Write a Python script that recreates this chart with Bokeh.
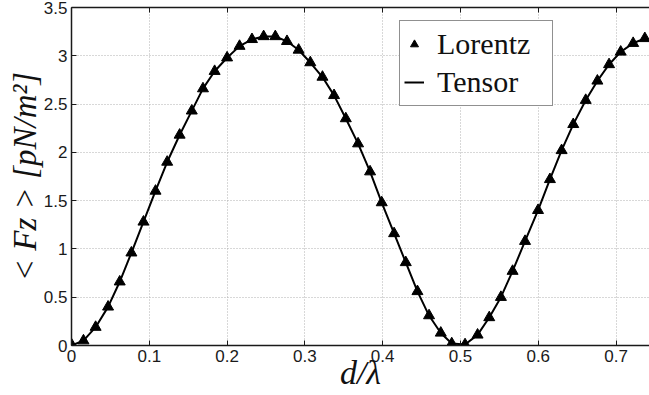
from bokeh.plotting import figure
from bokeh.models import Range1d, LinearAxis, Legend, LegendItem, FixedTicker
from bokeh.embed import file_html
from bokeh.resources import INLINE

# ---- data ----
d_lambda = [0.000, 0.0154, 0.031, 0.047, 0.062, 0.077, 0.0925, 0.108, 0.123, 0.139,
            0.1546, 0.169, 0.184, 0.200, 0.216, 0.232, 0.247, 0.262, 0.277, 0.292,
            0.307, 0.3226, 0.3375, 0.3526, 0.3684, 0.3838, 0.3988, 0.4147, 0.4297, 0.4447,
            0.4596, 0.4747, 0.4888, 0.5059, 0.522, 0.537, 0.552, 0.567, 0.583, 0.5997,
            0.615, 0.630, 0.645, 0.661, 0.676, 0.691, 0.706, 0.722, 0.737]
lorentz = [0.01, 0.05, 0.19, 0.40, 0.66, 0.96, 1.28, 1.60, 1.90, 2.18,
           2.43, 2.66, 2.84, 2.98, 3.10, 3.17, 3.20, 3.20, 3.15, 3.06,
           2.93, 2.78, 2.59, 2.35, 2.09, 1.80, 1.48, 1.16, 0.86, 0.56,
           0.31, 0.13, 0.02, 0.01, 0.11, 0.29, 0.50, 0.77, 1.08, 1.40,
           1.72, 2.02, 2.29, 2.54, 2.74, 2.91, 3.04, 3.13, 3.18]
tensor = [0.00, 0.05, 0.19, 0.40, 0.66, 0.96, 1.28, 1.60, 1.90, 2.18,
          2.43, 2.66, 2.84, 2.98, 3.10, 3.17, 3.20, 3.20, 3.15, 3.06,
          2.93, 2.78, 2.59, 2.35, 2.09, 1.80, 1.48, 1.16, 0.86, 0.56,
          0.31, 0.13, 0.02, 0.01, 0.11, 0.29, 0.50, 0.77, 1.08, 1.40,
          1.72, 2.02, 2.29, 2.54, 2.74, 2.91, 3.04, 3.13, 3.18]
x_ticks = [0, 0.1, 0.2, 0.3, 0.4, 0.5, 0.6, 0.7]
y_ticks = [0, 0.5, 1, 1.5, 2, 2.5, 3, 3.5]
x_tick_labels = {0: "0", 0.1: "0.1", 0.2: "0.2", 0.3: "0.3", 0.4: "0.4", 0.5: "0.5", 0.6: "0.6", 0.7: "0.7"}
y_tick_labels = {0: "0", 0.5: "0.5", 1: "1", 1.5: "1.5", 2: "2", 2.5: "2.5", 3: "3", 3.5: "3.5"}
x_label = "d/λ"
y_label = "< Fz > [pN/m²]"
series_names = ["Lorentz", "Tensor"]

W, H = 649, 395
L, T, B = 71, 7, 50

p = figure(width=W, height=H, output_backend="svg", toolbar_location=None,
           x_range=Range1d(0, 0.743), y_range=Range1d(0, 3.5),
           min_border_left=L, min_border_right=0, min_border_top=T, min_border_bottom=B,
           x_axis_location=None, y_axis_location=None)
p.outline_line_color = None
p.background_fill_color = "white"
p.border_fill_color = "white"

def style_axis(ax, show_labels=True):
    ax.axis_line_color = "#1a1a1a"
    ax.axis_line_width = 1.5
    ax.major_tick_line_color = "#1a1a1a"
    ax.major_tick_in = 5
    ax.major_tick_out = 0
    ax.minor_tick_line_color = None
    ax.major_label_text_font = "Liberation Sans"
    ax.major_label_text_font_size = "17px"
    ax.major_label_text_color = "#1a1a1a" if show_labels else None
    ax.axis_label_text_font = "Liberation Serif"
    ax.axis_label_text_font_style = "italic"
    ax.axis_label_text_color = "#111111"

xb = LinearAxis(ticker=FixedTicker(ticks=x_ticks), major_label_overrides=x_tick_labels,
                axis_label=x_label)
style_axis(xb)
xb.major_label_standoff = 4
xb.axis_label_text_font_size = "34px"
xb.axis_label_standoff = -11
p.add_layout(xb, "below")

xt = LinearAxis(ticker=FixedTicker(ticks=x_ticks))
style_axis(xt, False)
xt.major_label_standoff = 0
p.add_layout(xt, "above")

yl = LinearAxis(ticker=FixedTicker(ticks=y_ticks), major_label_overrides=y_tick_labels,
                axis_label=y_label)
style_axis(yl)
yl.major_label_standoff = 4
yl.axis_label_text_font_size = "33px"
yl.axis_label_standoff = -2
p.add_layout(yl, "left")

p.xgrid.ticker = FixedTicker(ticks=x_ticks)
p.ygrid.ticker = FixedTicker(ticks=y_ticks)
for g in (p.xgrid, p.ygrid):
    g.grid_line_color = "#b0b0b0"
    g.grid_line_dash = "1 2"
    g.grid_line_width = 1

r_line = p.line(d_lambda, tensor, line_color="black", line_width=2)
r_sc = p.scatter(d_lambda, lorentz, marker="triangle", size=11,
                 fill_color="black", line_color="black")

legend = Legend(items=[LegendItem(label=series_names[0], renderers=[r_sc]),
                       LegendItem(label=series_names[1], renderers=[r_line])],
                location=(328, 239))
legend.label_text_font = "Liberation Serif"
legend.label_text_font_size = "30px"
legend.label_text_color = "#111111"
legend.border_line_color = "#222222"
legend.border_line_width = 1.2
legend.background_fill_color = "white"
legend.background_fill_alpha = 1.0
legend.padding = 4
legend.spacing = 0
legend.margin = 0
legend.glyph_width = 20
legend.glyph_height = 38
legend.label_height = 38
legend.label_width = 111
legend.label_standoff = 13
p.add_layout(legend)

open("out.html", "w").write(file_html(p, INLINE))
